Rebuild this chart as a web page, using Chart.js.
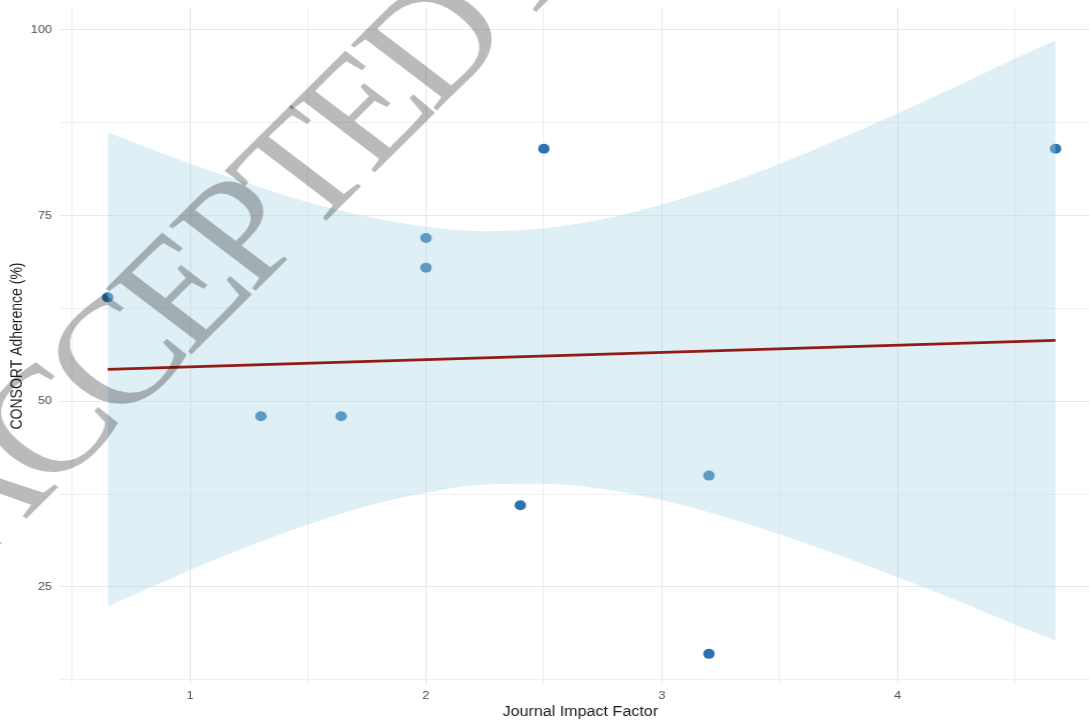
<!DOCTYPE html>
<html lang="en">
<head>
<meta charset="utf-8">
<title>CONSORT Adherence vs Journal Impact Factor</title>
<script src="https://cdn.jsdelivr.net/npm/chart.js@4.4.1/dist/chart.umd.min.js"></script>
<style>
    html, body { margin: 0; padding: 0; background: #fff; overflow: hidden; }
    /* l'image d'origine est étirée horizontalement */
    #zone { width: 962px; height: 721px; transform: scaleX(1.15); transform-origin: 0 0; }
</style>
</head>
<body>
<div id="zone"><canvas id="adherenceChart"></canvas></div>
<script>
// Points observés (facteur d'impact, adhérence CONSORT en %)
const facteurImpact = [0.65, 1.3, 1.64, 2.0, 2.0, 2.4, 2.5, 3.2, 3.2, 4.67];
const adherence = [64, 48, 48, 72, 68, 36, 84, 40, 16, 84];

// Droite de régression (extrémités)
const droiteX = [0.65, 4.67];
const droiteY = [54.3, 58.2];

// Bande de confiance
const bandeX = [0.65, 1.0, 1.25, 1.5, 1.75, 2.0, 2.25, 2.5, 2.75, 3.0, 3.25, 3.5, 3.75, 4.0, 4.25, 4.5, 4.67];
const bandeHaut = [86.2, 82.0, 79.3, 76.8, 74.9, 73.5, 72.9, 73.3, 74.5, 76.5, 79.0, 82.0, 85.3, 88.8, 92.4, 96.2, 98.6];
const bandeBas = [22.4, 27.3, 30.5, 33.4, 35.9, 37.7, 38.8, 38.9, 38.2, 36.7, 34.6, 32.1, 29.3, 26.3, 23.2, 19.9, 17.8];

// Graduations
const xTicksMajeurs = [1, 2, 3, 4];
const xTicksMineurs = [0.5, 1.5, 2.5, 3.5, 4.5];
const yTicksMajeurs = [25, 50, 75, 100];
const yTicksMineurs = [12.5, 37.5, 62.5, 87.5];

const titreX = 'Journal Impact Factor';
const titreY = 'CONSORT Adherence (%)';
const texteFiligrane = 'ACCEPTED MANUSCRIPT';

document.addEventListener('DOMContentLoaded', () => {
    const ctx = document.getElementById('adherenceChart').getContext('2d');

    const versPoints = (xs, ys) => xs.map((x, i) => ({ x: x, y: ys[i] }));

    // Filigrane gris par-dessus le graphique (lettres serrées)
    const filigrane = {
        id: 'filigrane',
        afterDraw(chart) {
            const c = chart.ctx;
            const police = '"Liberation Serif", "DejaVu Serif", serif';
            c.save();
            c.globalCompositeOperation = 'multiply';
            c.translate(-18, 553);
            c.rotate(-48.8 * Math.PI / 180);
            c.fillStyle = 'rgb(186, 186, 186)';
            c.textBaseline = 'alphabetic';
            c.textAlign = 'center';
            let pos = -8;
            for (const lettre of texteFiligrane) {
                c.font = '136px ' + police;
                const largeur = c.measureText(lettre).width;
                c.font = '152px ' + police;
                c.fillText(lettre, pos + largeur / 2, 8);
                pos += largeur;
            }
            c.restore();
        }
    };

    const couleurGrille = (context) => {
        const v = context.tick ? context.tick.value : null;
        const majeur = xTicksMajeurs.includes(v) || yTicksMajeurs.includes(v);
        return majeur ? '#e8e8e8' : '#f0f0f0';
    };

    const chartConfig = {
        type: 'scatter',
        data: {
            datasets: [
                {
                    label: 'Articles',
                    data: versPoints(facteurImpact, adherence),
                    pointRadius: 5,
                    pointBackgroundColor: '#2c72b0',
                    pointBorderWidth: 0,
                    order: 3
                },
                {
                    type: 'line',
                    label: 'IC haut',
                    data: versPoints(bandeX, bandeHaut),
                    borderWidth: 0,
                    pointRadius: 0,
                    cubicInterpolationMode: 'monotone',
                    fill: false,
                    order: 2
                },
                {
                    type: 'line',
                    label: 'IC bas',
                    data: versPoints(bandeX, bandeBas),
                    borderWidth: 0,
                    pointRadius: 0,
                    cubicInterpolationMode: 'monotone',
                    fill: '-1',
                    backgroundColor: 'rgba(173, 216, 230, 0.4)',
                    order: 2
                },
                {
                    type: 'line',
                    label: 'Régression',
                    data: versPoints(droiteX, droiteY),
                    borderColor: '#931c16',
                    borderWidth: 2.8,
                    pointRadius: 0,
                    fill: false,
                    order: 0
                }
            ]
        },
        options: {
            responsive: true,
            maintainAspectRatio: false,
            animation: false,
            layout: { padding: { top: 8, left: 0, right: 0, bottom: 0 } },
            scales: {
                x: {
                    type: 'linear',
                    min: 0.448,
                    max: 4.861,
                    afterFit: (scale) => {
                        scale.height = 37;
                        scale.paddingLeft = 0;
                        scale.paddingRight = 0;
                    },
                    afterBuildTicks: (scale) => {
                        scale.ticks = xTicksMineurs.concat(xTicksMajeurs)
                            .sort((a, b) => a - b)
                            .map(v => ({ value: v }));
                    },
                    border: { display: false },
                    grid: { color: couleurGrille, lineWidth: 1.1, drawTicks: false },
                    ticks: {
                        autoSkip: false,
                        maxRotation: 0,
                        padding: 5,
                        color: '#4d4d4d',
                        font: { family: '"Liberation Sans", Arial, sans-serif', size: 11 },
                        callback: (value) => xTicksMajeurs.includes(value) ? String(value) : ''
                    },
                    title: {
                        display: true,
                        text: titreX,
                        color: '#1a1a1a',
                        padding: { top: 0, bottom: 0 },
                        font: { family: '"Liberation Sans", Arial, sans-serif', size: 14 }
                    }
                },
                y: {
                    type: 'linear',
                    min: 11.94,
                    max: 102.96,
                    afterFit: (scale) => {
                        scale.width = 52.2;
                        scale.paddingTop = 0;
                        scale.paddingBottom = 0;
                    },
                    afterBuildTicks: (scale) => {
                        scale.ticks = yTicksMineurs.concat(yTicksMajeurs)
                            .sort((a, b) => a - b)
                            .map(v => ({ value: v }));
                    },
                    border: { display: false },
                    grid: { color: couleurGrille, lineWidth: 1.1, drawTicks: false },
                    ticks: {
                        autoSkip: false,
                        padding: 7,
                        color: '#4d4d4d',
                        font: { family: '"Liberation Sans", Arial, sans-serif', size: 11 },
                        callback: (value) => yTicksMajeurs.includes(value) ? String(value) : ''
                    },
                    title: {
                        display: true,
                        text: titreY,
                        color: '#1a1a1a',
                        padding: { top: 7, bottom: 0 },
                        font: { family: '"Liberation Sans", Arial, sans-serif', size: 14 }
                    }
                }
            },
            plugins: {
                legend: { display: false },
                tooltip: { enabled: false }
            }
        },
        plugins: [filigrane]
    };

    new Chart(ctx, chartConfig);
});
</script>
</body>
</html>
